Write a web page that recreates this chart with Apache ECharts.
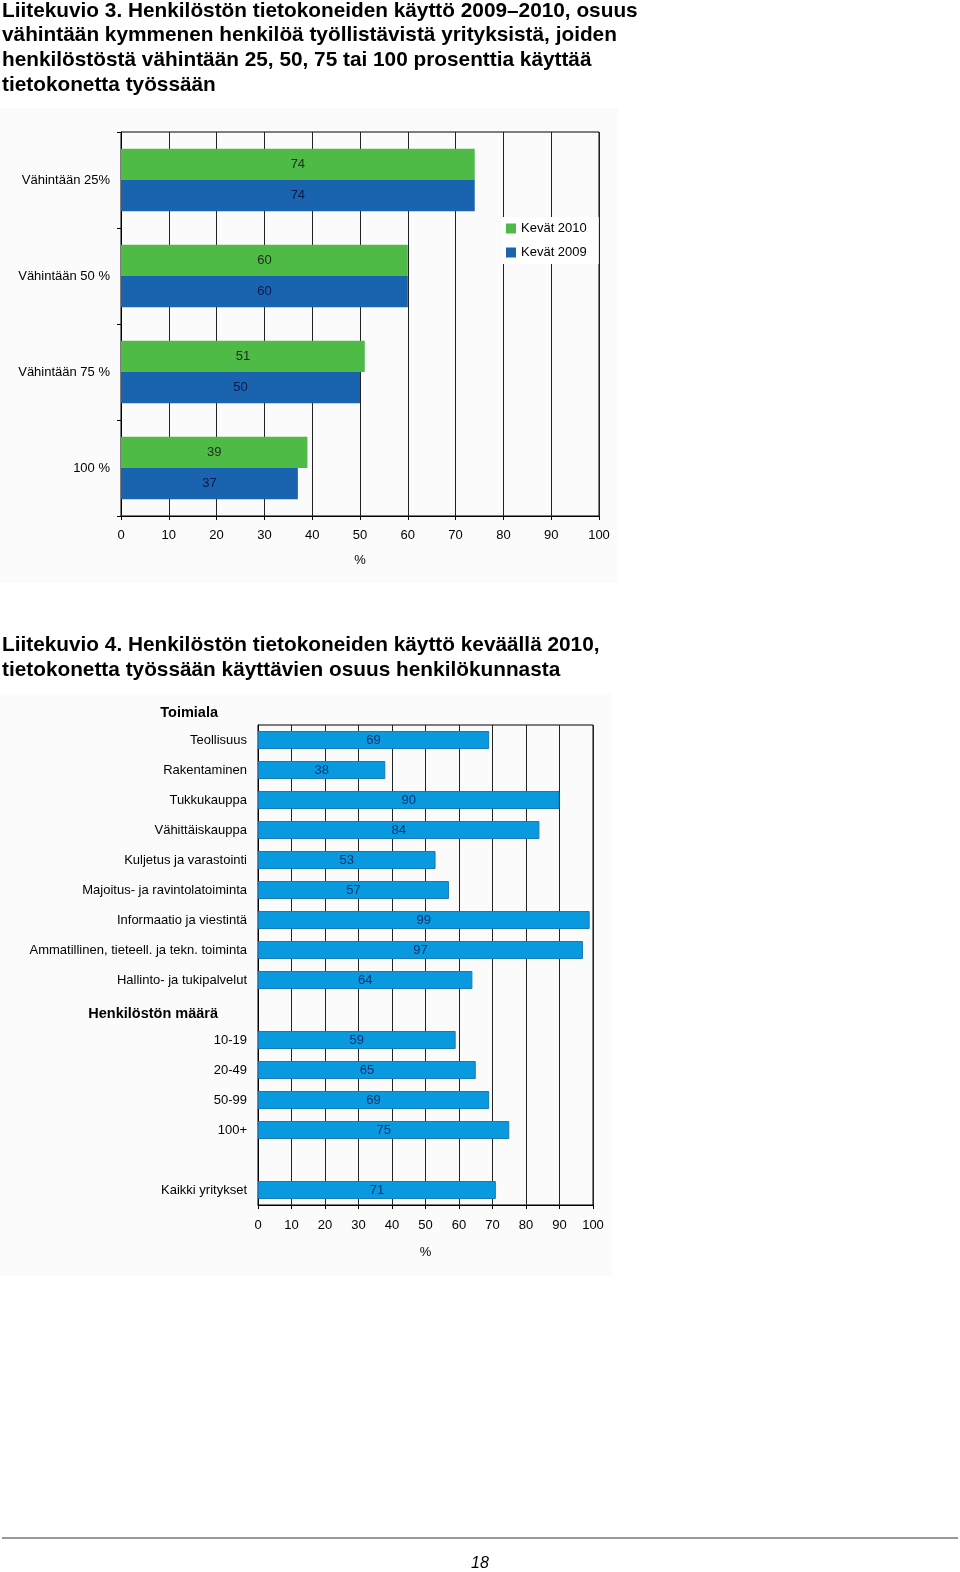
<!DOCTYPE html>
<html><head><meta charset="utf-8">
<script src="https://cdn.jsdelivr.net/npm/echarts@6/dist/echarts.min.js"></script>
<style>html,body{margin:0;padding:0;background:#fff}#c{width:960px;height:1572px}</style>
</head><body><div id="c"></div>
<script>
// Chart 1 data
const cat1 = ['Vähintään 25%', 'Vähintään 50 %', 'Vähintään 75 %', '100 %'];
const spring2010 = [74, 60, 51, 39];
const spring2009 = [74, 60, 50, 37];
const series1Names = ['Kevät 2010', 'Kevät 2009'];
// Chart 2 data
const cat2 = ['Teollisuus', 'Rakentaminen', 'Tukkukauppa', 'Vähittäiskauppa', 'Kuljetus ja varastointi',
  'Majoitus- ja ravintolatoiminta', 'Informaatio ja viestintä', 'Ammatillinen, tieteell. ja tekn. toiminta',
  'Hallinto- ja tukipalvelut', 'Henkilöstön määrä', '10-19', '20-49', '50-99', '100+', '', 'Kaikki yritykset'];
const usage2010 = [69, 38, 90, 84, 53, 57, 99, 97, 64, null, 59, 65, 69, 75, null, 71];
const headers2 = ['Henkilöstön määrä'];
const xTicks = [0, 10, 20, 30, 40, 50, 60, 70, 80, 90, 100];

const FONT = "'Liberation Sans', Arial, sans-serif";
const titleLines1 = ['Liitekuvio 3. Henkilöstön tietokoneiden käyttö 2009–2010, osuus',
  'vähintään kymmenen henkilöä työllistävistä yrityksistä, joiden',
  'henkilöstöstä vähintään 25, 50, 75 tai 100 prosenttia käyttää',
  'tietokonetta työssään'];
const titleLines2 = ['Liitekuvio 4. Henkilöstön tietokoneiden käyttö keväällä 2010,',
  'tietokonetta työssään käyttävien osuus henkilökunnasta'];

const graphics = [
  {type: 'rect', z: -10, shape: {x: 0, y: 108, width: 618, height: 475}, style: {fill: '#fbfbfb'}},
  {type: 'rect', z: -10, shape: {x: 0, y: 694, width: 612, height: 582}, style: {fill: '#fbfbfb'}},
  {type: 'line', shape: {x1: 2, y1: 1538, x2: 958, y2: 1538}, style: {stroke: '#999', lineWidth: 2}},
  {type: 'text', x: 480, y: 1564, style: {text: '18', font: 'italic 16px ' + FONT, fill: '#000', align: 'center', verticalAlign: 'middle'}},
  {type: 'text', x: 218, y: 713, style: {text: 'Toimiala', font: 'bold 14.5px ' + FONT, fill: '#000', align: 'right', verticalAlign: 'middle'}}
];
titleLines1.forEach((t, i) => graphics.push({type: 'text', x: 2, y: 11 + i * 24.7,
  style: {text: t, font: 'bold 20.8px ' + FONT, fill: '#000', align: 'left', verticalAlign: 'middle'}}));
titleLines2.forEach((t, i) => graphics.push({type: 'text', x: 2, y: 645 + i * 25,
  style: {text: t, font: 'bold 20.8px ' + FONT, fill: '#000', align: 'left', verticalAlign: 'middle'}}));

const valueAxisCommon = {
  type: 'value', min: 0, max: 100, interval: 10,
  name: '%', nameLocation: 'middle', nameGap: 38,
  nameTextStyle: {fontFamily: FONT, fontSize: 13, color: '#000'},
  axisLine: {show: true, lineStyle: {color: '#000', width: 1}},
  axisTick: {show: true, length: 4, lineStyle: {color: '#000'}},
  axisLabel: {fontFamily: FONT, fontSize: 13, color: '#000', margin: 13},
  splitLine: {show: true, lineStyle: {color: '#222', width: 1}}
};

const chart = echarts.init(document.getElementById('c'), null, {renderer: 'canvas'});
chart.setOption({
  animation: false,
  backgroundColor: '#fff',
  graphic: graphics,
  legend: {
    data: series1Names, orient: 'vertical', left: 502, top: 217,
    itemWidth: 10, itemHeight: 10, itemGap: 11,
    backgroundColor: '#fff', padding: [5, 12, 5, 4],
    icon: 'rect',
    textStyle: {fontFamily: FONT, fontSize: 13, color: '#000'}
  },
  grid: [
    {left: 121, top: 132, width: 478, height: 384, show: true, borderColor: '#000', borderWidth: 1, containLabel: false},
    {left: 258, top: 725, width: 335, height: 480, show: true, borderColor: '#000', borderWidth: 1, containLabel: false}
  ],
  xAxis: [
    Object.assign({}, valueAxisCommon, {gridIndex: 0}),
    Object.assign({}, valueAxisCommon, {gridIndex: 1, nameGap: 41, axisLabel: {fontFamily: FONT, fontSize: 13, color: '#000', margin: 14}})
  ],
  yAxis: [
    {type: 'category', gridIndex: 0, data: cat1, inverse: true,
      axisLine: {show: true, lineStyle: {color: '#000'}},
      axisTick: {show: true, length: 4, lineStyle: {color: '#000'}},
      axisLabel: {fontFamily: FONT, fontSize: 13, color: '#000', margin: 11},
      splitLine: {show: false}},
    {type: 'category', gridIndex: 1, data: cat2, inverse: true,
      axisLine: {show: true, lineStyle: {color: '#000'}},
      axisTick: {show: false},
      axisLabel: {fontFamily: FONT, fontSize: 13, color: '#000', margin: 11, interval: 0,
        formatter: v => headers2.includes(v) ? '{h|' + v + '}' : v,
        rich: {h: {fontFamily: FONT, fontSize: 14.5, fontWeight: 'bold', color: '#000', padding: [8, 29, 0, 0]}}},
      splitLine: {show: false}}
  ],
  series: [
    {name: series1Names[0], type: 'bar', xAxisIndex: 0, yAxisIndex: 0, data: spring2010,
      barGap: '0%', barCategoryGap: '35%',
      itemStyle: {color: '#4fbb47'},
      label: {show: true, position: 'inside', fontFamily: FONT, fontSize: 13, color: '#1c2a1c'}},
    {name: series1Names[1], type: 'bar', xAxisIndex: 0, yAxisIndex: 0, data: spring2009,
      barGap: '0%', barCategoryGap: '35%',
      itemStyle: {color: '#1a63ae'},
      label: {show: true, position: 'inside', fontFamily: FONT, fontSize: 13, color: '#0a1a4a'}},
    {name: 'Kevät 2010 toimiala', type: 'bar', xAxisIndex: 1, yAxisIndex: 1, data: usage2010,
      barCategoryGap: '40%',
      itemStyle: {color: '#0899df', borderColor: '#1a78b8', borderWidth: 1},
      label: {show: true, position: 'inside', fontFamily: FONT, fontSize: 13, color: '#16306a'}}
  ]
});
</script></body></html>
